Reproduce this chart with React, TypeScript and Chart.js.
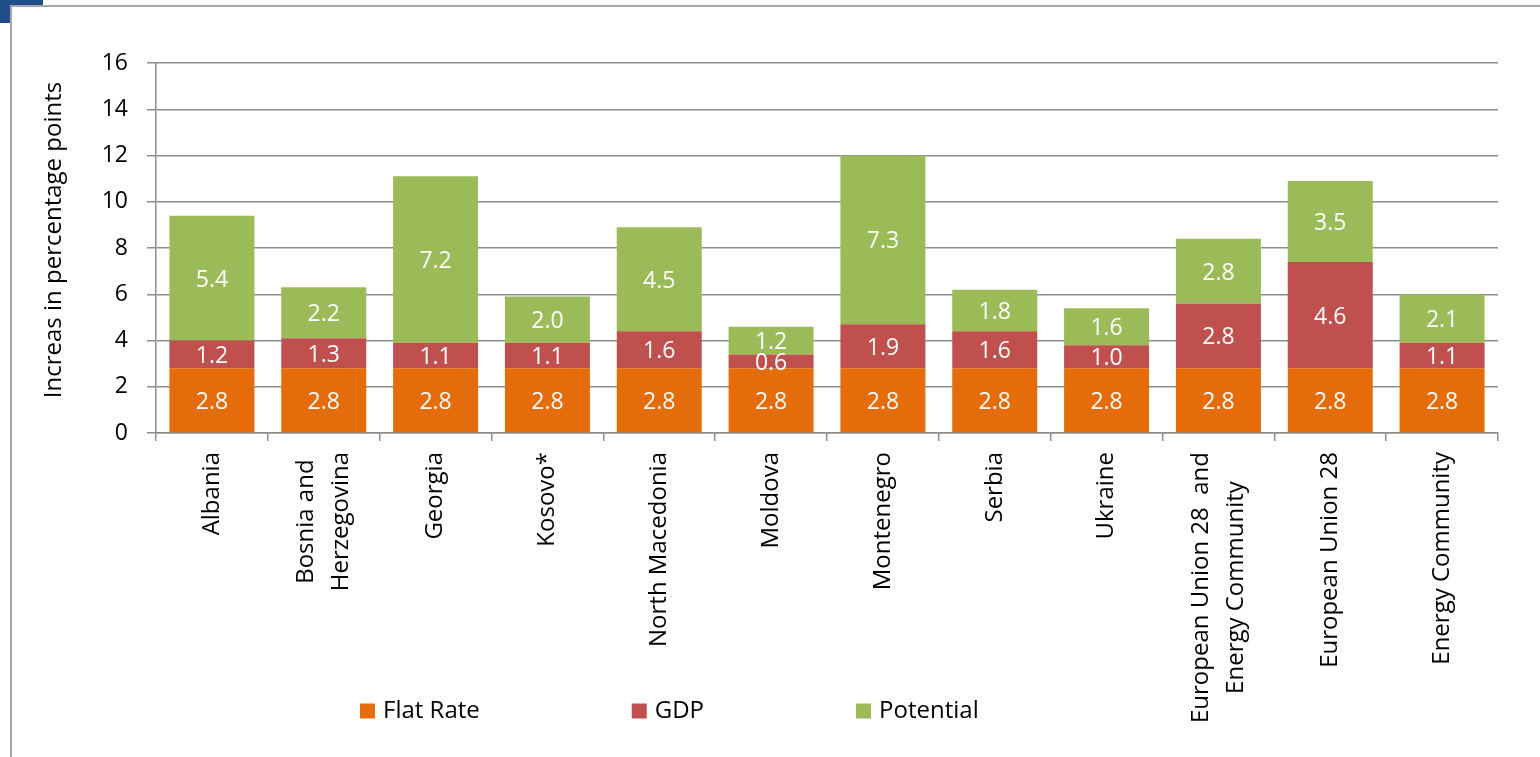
import React, { useEffect, useRef } from "react";
import { Chart, registerables } from "chart.js";

Chart.register(...registerables);

const categories: string[][] = [
  ["Albania"],
  ["Bosnia and", "Herzegovina"],
  ["Georgia"],
  ["Kosovo*"],
  ["North Macedonia"],
  ["Moldova"],
  ["Montenegro"],
  ["Serbia"],
  ["Ukraine"],
  ["European Union 28  and", "Energy Community"],
  ["European Union 28"],
  ["Energy Community"],
];
const flatRate = [2.8, 2.8, 2.8, 2.8, 2.8, 2.8, 2.8, 2.8, 2.8, 2.8, 2.8, 2.8];
const gdp = [1.2, 1.3, 1.1, 1.1, 1.6, 0.6, 1.9, 1.6, 1.0, 2.8, 4.6, 1.1];
const potential = [5.4, 2.2, 7.2, 2.0, 4.5, 1.2, 7.3, 1.8, 1.6, 2.8, 3.5, 2.1];
const seriesLabels = ["Flat Rate", "GDP", "Potential"];
const seriesColors = ["#E46C0A", "#C0504D", "#9BBB59"];
const yMin = 0;
const yMax = 16;
const yStep = 2;
const yTitle = "Increas in percentage points";

const FONT = "'Open Sans', sans-serif";
const GRID = "#8c8c8c";

const segmentLabels = {
  id: "segmentLabels",
  afterDatasetsDraw(chart: any) {
    const ctx = chart.ctx;
    ctx.save();
    ctx.fillStyle = "#ffffff";
    ctx.font = `23px ${FONT}`;
    ctx.textAlign = "center";
    ctx.textBaseline = "middle";
    chart.data.datasets.forEach((ds: any, di: number) => {
      const meta = chart.getDatasetMeta(di);
      meta.data.forEach((el: any, i: number) => {
        const v = ds.data[i];
        const cy = (el.y + el.base) / 2;
        ctx.fillText(Number(v).toFixed(1), el.x, cy + 2);
      });
    });
    ctx.restore();
  },
};

const xLabels = {
  id: "xLabels",
  afterDraw(chart: any) {
    const ctx = chart.ctx;
    const xs = chart.scales.x;
    const top = chart.chartArea.bottom + 19;
    const lh = 35;
    ctx.save();
    ctx.fillStyle = "#000";
    ctx.font = `24px ${FONT}`;
    ctx.textBaseline = "middle";
    ctx.textAlign = "center";
    categories.forEach((lines, i) => {
      const cx = xs.getPixelForValue(i);
      const maxW = Math.max(...lines.map((l) => ctx.measureText(l).width));
      ctx.save();
      ctx.translate(cx, top);
      ctx.rotate(-Math.PI / 2);
      lines.forEach((l, k) => {
        const off = (k - (lines.length - 1) / 2) * lh;
        ctx.fillText(l, -maxW / 2, off);
      });
      ctx.restore();
    });
    ctx.restore();
  },
};

const yTitlePlugin = {
  id: "yTitlePlugin",
  afterDraw(chart: any) {
    const ctx = chart.ctx;
    ctx.save();
    ctx.fillStyle = "#000";
    ctx.font = `24px ${FONT}`;
    ctx.textAlign = "center";
    ctx.textBaseline = "middle";
    ctx.translate(54, 240);
    ctx.rotate(-Math.PI / 2);
    ctx.fillText(yTitle, 0, 0);
    ctx.restore();
  },
};

const legendPlugin = {
  id: "legendPlugin",
  afterDraw(chart: any) {
    const ctx = chart.ctx;
    ctx.save();
    ctx.font = `24px ${FONT}`;
    ctx.textBaseline = "middle";
    ctx.textAlign = "left";
    let x = 360;
    const cy = 711;
    chart.data.datasets.forEach((ds: any) => {
      ctx.fillStyle = ds.backgroundColor;
      ctx.fillRect(x, cy - 7.5, 15, 15);
      ctx.fillStyle = "#000";
      ctx.fillText(ds.label, x + 23, cy);
      x += 23 + ctx.measureText(ds.label).width + 152;
    });
    ctx.restore();
  },
};

export default function App() {
  const ref = useRef<HTMLCanvasElement | null>(null);
  useEffect(() => {
    if (!ref.current) return;
    const seriesData = [flatRate, gdp, potential];
    const chart = new Chart(ref.current, {
      type: "bar",
      data: {
        labels: categories.map((c) => c.join(" ")),
        datasets: seriesData.map((d, i) => ({
          label: seriesLabels[i],
          data: d,
          backgroundColor: seriesColors[i],
          borderWidth: 0,
          barPercentage: 0.76,
          categoryPercentage: 1,
        })),
      },
      options: {
        responsive: false,
        maintainAspectRatio: false,
        animation: false,
        devicePixelRatio: 1,
        layout: { padding: { left: 0, top: 63, right: 42, bottom: 316 } },
        plugins: {
          legend: { display: false },
          tooltip: { enabled: false },
          title: { display: false },
        },
        scales: {
          x: {
            stacked: true,
            afterFit: (s: any) => {
              s.height = 8;
            },
            grid: {
              display: true,
              drawOnChartArea: false,
              drawTicks: true,
              tickLength: 8,
              color: GRID,
              lineWidth: 1.5,
              offset: true,
            },
            border: { display: true, color: GRID, width: 1.5 },
            ticks: { display: false },
          },
          y: {
            stacked: true,
            min: yMin,
            max: yMax,
            afterFit: (s: any) => {
              s.width = 156;
            },
            ticks: {
              stepSize: yStep,
              color: "#000",
              padding: 19,
              font: { family: FONT, size: 23 },
            },
            grid: {
              color: GRID,
              lineWidth: 1.5,
              drawTicks: true,
              tickLength: 9,
            },
            border: { display: true, color: GRID, width: 1.5 },
          },
        },
      },
      plugins: [segmentLabels, xLabels, yTitlePlugin, legendPlugin],
    });
    return () => chart.destroy();
  }, []);

  return (
    <div
      style={{
        position: "fixed",
        left: 0,
        top: 0,
        width: 1540,
        height: 757,
        overflow: "hidden",
        background: "#fff",
      }}
    >
      <div style={{ position: "absolute", left: 0, top: 0, width: 43, height: 23, background: "#1f4e8a" }} />
      <div
        style={{
          position: "absolute",
          left: 10,
          top: 5,
          width: 1700,
          height: 900,
          borderLeft: "2px solid #a6a6a6",
          borderTop: "2px solid #a6a6a6",
          background: "#fff",
        }}
      />
      <canvas ref={ref} width={1540} height={757} style={{ position: "absolute", left: 0, top: 0 }} />
    </div>
  );
}
